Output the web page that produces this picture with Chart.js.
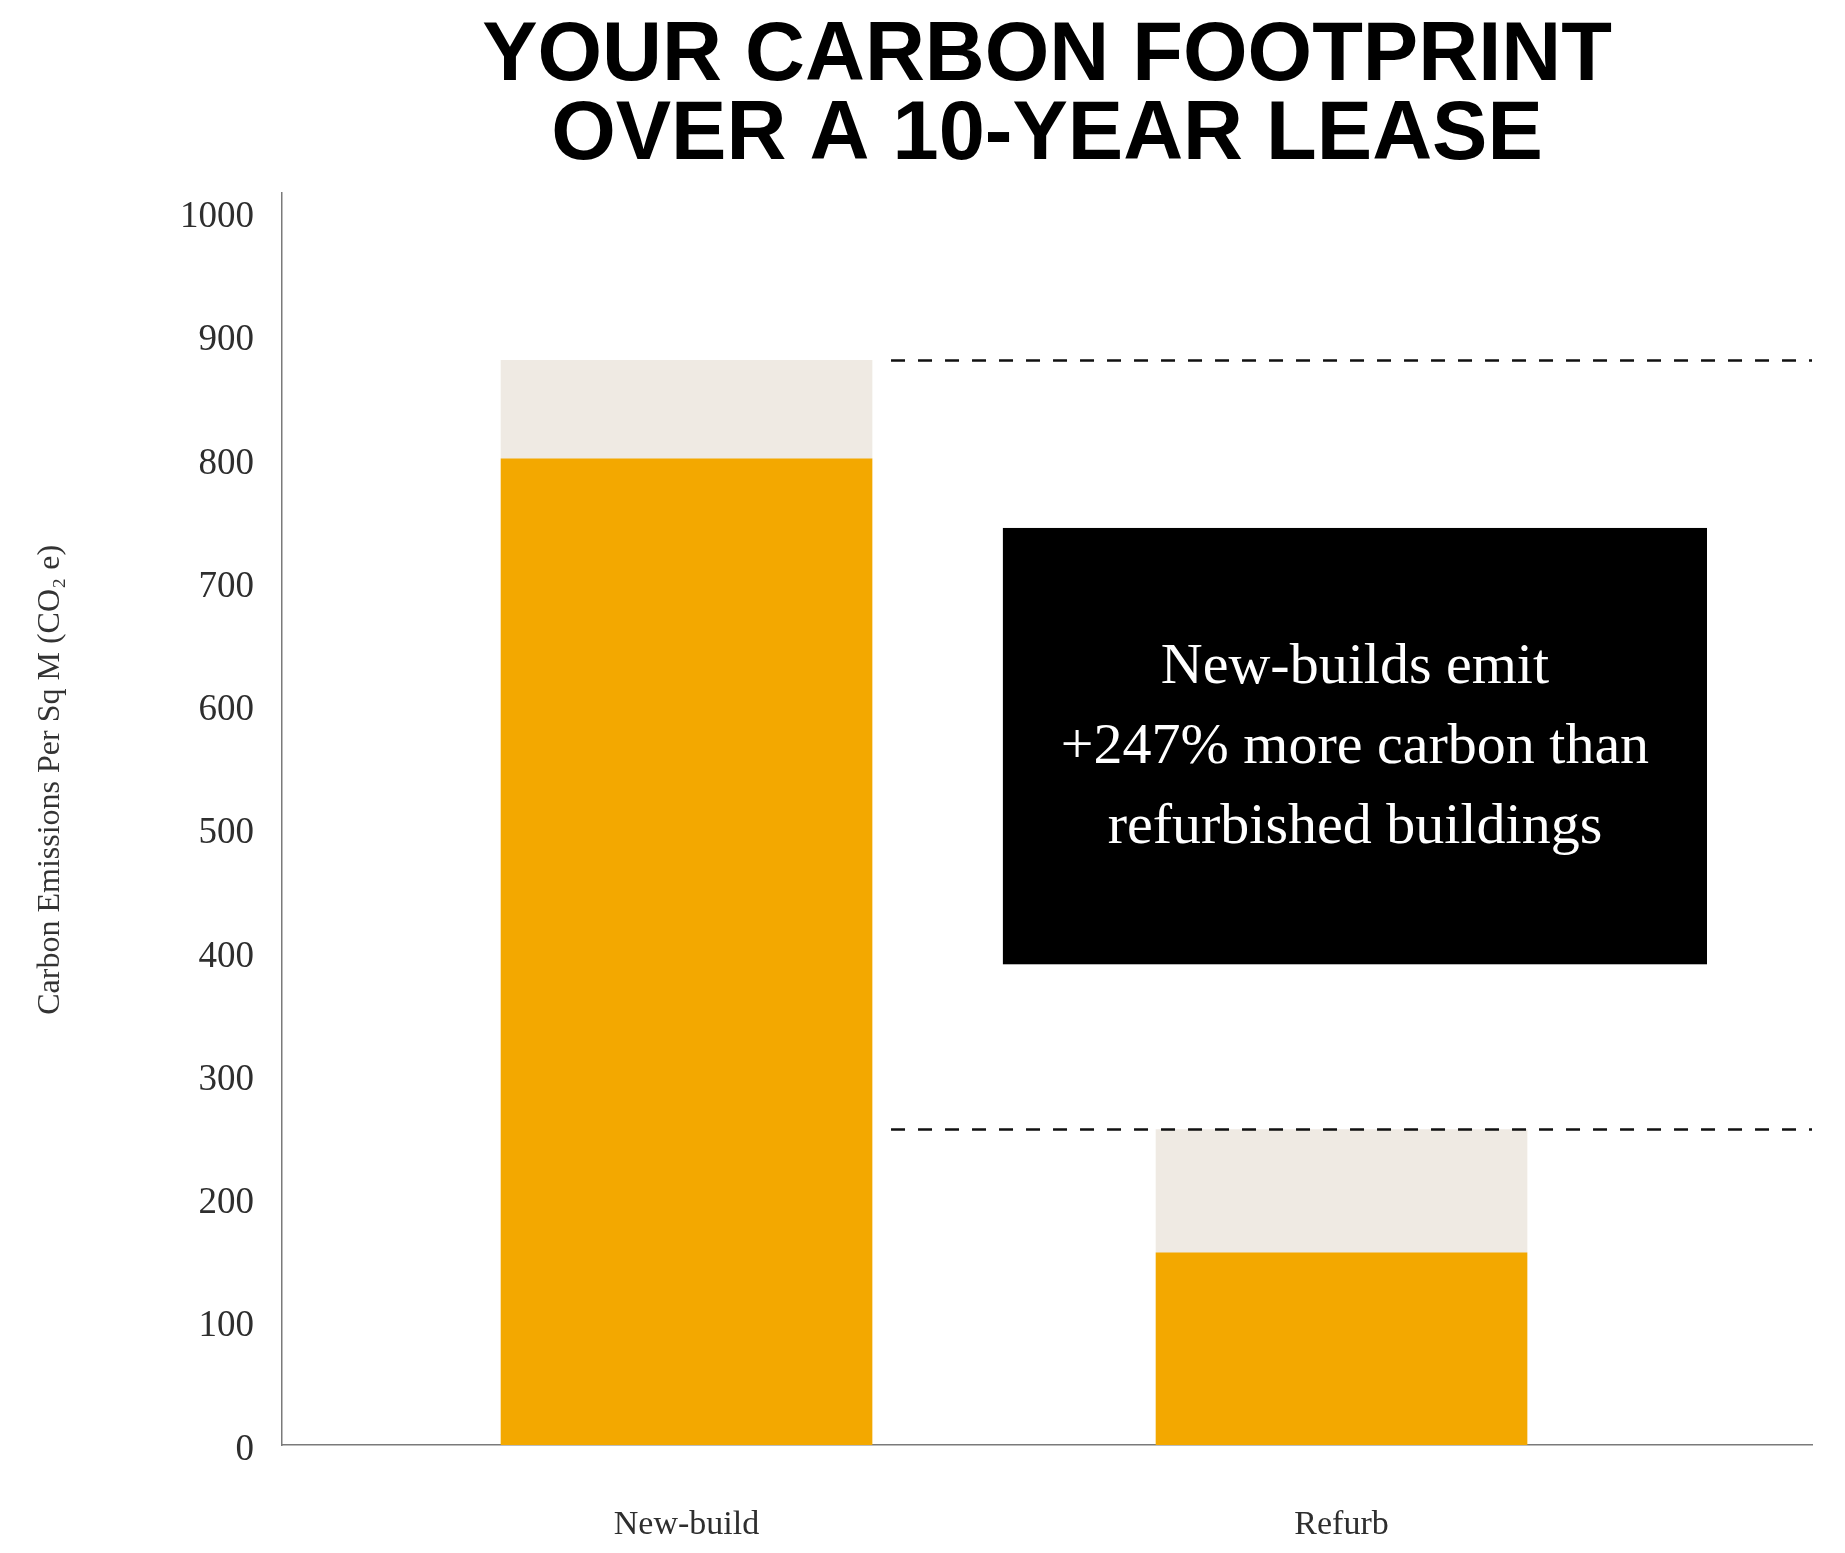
<!DOCTYPE html>
<html>
<head>
<meta charset="utf-8">
<script src="https://cdn.jsdelivr.net/npm/chart.js@4.4.1/dist/chart.umd.min.js"></script>
<style>
    html, body { margin: 0; padding: 0; background: #fff; }
</style>
</head>
<body>
<canvas id="myChart" width="1845" height="1553"></canvas>
<script>
const categories = ['New-build', 'Refurb']
const embodied = [800, 156]      // orange part
const operational = [80, 100]    // beige part on top
const yTicks = [0, 100, 200, 300, 400, 500, 600, 700, 800, 900, 1000]
const titleLines = ['YOUR CARBON FOOTPRINT', 'OVER A 10-YEAR LEASE']
const yTitle = 'Carbon Emissions Per Sq M (CO\u2082 e)'
const noteLines = ['New-builds emit', '+247% more carbon than', 'refurbished buildings']

const totals = embodied.map((v, i) => v + operational[i])

const serif = "'Liberation Serif', 'DejaVu Serif', serif"
const orange = '#f3a800'
const beige = '#efeae3'
const barWidth = 371

// dashed guides at each bar total + black note box
const extras = {
    id: 'extras',
    afterDatasetsDraw(chart) {
        const { ctx, chartArea, scales: { x, y } } = chart
        ctx.save()

        let startX = x.getPixelForValue(0) + barWidth / 2 + 19
        ctx.strokeStyle = '#111'
        ctx.lineWidth = 2.5
        ctx.setLineDash([14, 13])
        totals.forEach(t => {
            let py = Math.round(y.getPixelForValue(t)) + 0.5
            ctx.beginPath()
            ctx.moveTo(startX, py)
            ctx.lineTo(chartArea.right, py)
            ctx.stroke()
        })
        ctx.setLineDash([])

        let bx0 = x.getPixelForValue(0.483)
        let bx1 = x.getPixelForValue(1.558)
        let by0 = y.getPixelForValue(744)
        let by1 = y.getPixelForValue(390)
        ctx.fillStyle = '#000'
        ctx.fillRect(bx0, by0, bx1 - bx0, by1 - by0)

        ctx.fillStyle = '#fff'
        ctx.font = '58px ' + serif
        ctx.textAlign = 'center'
        ctx.textBaseline = 'middle'
        let cx = (bx0 + bx1) / 2
        let cy = (by0 + by1) / 2
        noteLines.forEach((line, i) => {
            ctx.fillText(line, cx, cy + (i - 1) * 80 + 2)
        })
        ctx.restore()
    },
    afterDraw(chart) {
        const { ctx, chartArea } = chart
        ctx.save()
        ctx.translate(51, (chartArea.top + chartArea.bottom) / 2 - 39)
        ctx.rotate(-Math.PI / 2)
        ctx.fillStyle = '#333'
        ctx.font = '32px ' + serif
        ctx.textAlign = 'center'
        ctx.textBaseline = 'middle'
        ctx.fillText(yTitle, 0, 0)
        ctx.restore()
    }
}

const ctx = document.getElementById('myChart')

new Chart(ctx, {
    type: 'bar',
    data: {
        datasets: [
            {
                label: 'Embodied',
                data: embodied.map((v, i) => ({ x: i, y: v })),
                backgroundColor: orange,
                barThickness: barWidth
            },
            {
                label: 'Operational',
                data: operational.map((v, i) => ({ x: i, y: v })),
                backgroundColor: beige,
                barThickness: barWidth
            }
        ]
    },
    options: {
        responsive: false,
        animation: false,
        layout: { padding: { left: 0, right: 33, top: 0, bottom: 0 } },
        plugins: {
            legend: { display: false },
            tooltip: { enabled: false },
            title: {
                display: true,
                text: titleLines,
                fullSize: false,
                color: '#000',
                font: { family: "'Liberation Sans', Arial, sans-serif", size: 83, weight: 'bold', lineHeight: 0.95 },
                padding: { top: 18, bottom: 17 }
            }
        },
        scales: {
            x: {
                type: 'linear',
                stacked: true,
                offset: false,
                min: -0.6176,
                max: 1.7183,
                z: 1,
                grid: { display: false, drawTicks: false },
                border: { display: true, color: '#7a7a7a', width: 1.5 },
                afterBuildTicks: scale => {
                    scale.ticks = categories.map((c, i) => ({ value: i }))
                },
                afterFit: scale => { scale.height = 108 },
                ticks: {
                    padding: 60,
                    color: '#2e2e2e',
                    font: { family: serif, size: 34 },
                    callback: v => categories[v]
                }
            },
            y: {
                stacked: true,
                min: 0,
                max: 1016,
                grid: { display: false, drawTicks: false },
                border: { display: true, color: '#7a7a7a', width: 1.5 },
                afterBuildTicks: scale => {
                    scale.ticks = yTicks.map(v => ({ value: v }))
                },
                afterFit: scale => { scale.width = 282 },
                ticks: {
                    padding: 28,
                    labelOffset: 5,
                    color: '#2e2e2e',
                    font: { family: serif, size: 37 },
                    callback: v => String(v)
                }
            }
        }
    },
    plugins: [extras]
})
</script>
</body>
</html>
